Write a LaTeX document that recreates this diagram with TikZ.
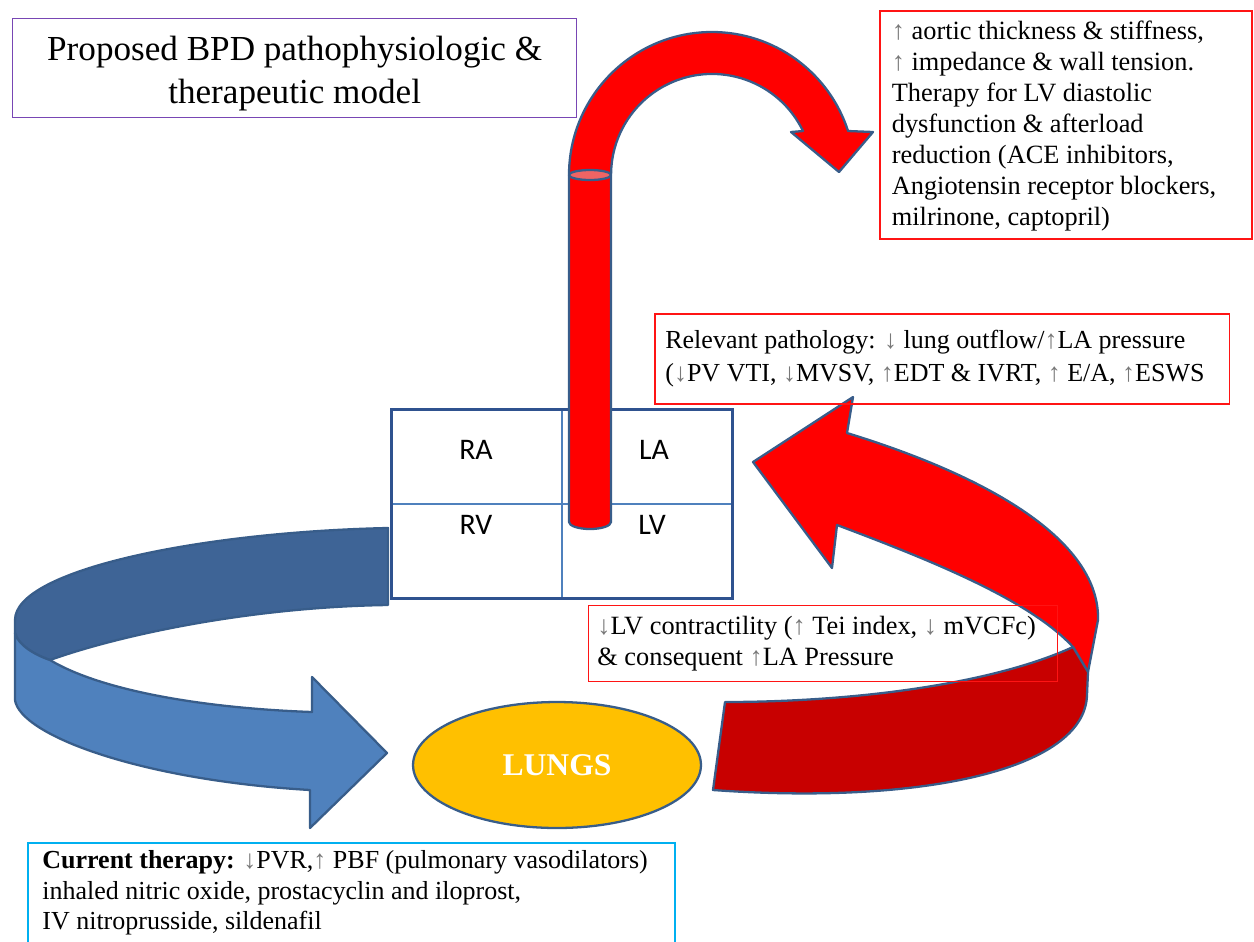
\documentclass[tikz,border=0pt]{standalone}
\usepackage{fontspec}
\setmainfont{Liberation Serif}
\newfontfamily\calib{Carlito}
\usetikzlibrary{shapes.geometric}
\definecolor{outl}{RGB}{56,93,138}
\definecolor{heartblue}{RGB}{47,82,143}
\definecolor{thinblue}{RGB}{79,129,189}
\definecolor{bluedark}{RGB}{62,100,150}
\definecolor{bluelight}{RGB}{79,129,189}
\definecolor{brightred}{RGB}{255,0,0}
\definecolor{darkred}{RGB}{200,0,0}
\definecolor{topred}{RGB}{240,100,100}
\definecolor{lungyellow}{RGB}{255,192,0}
\definecolor{purplebox}{RGB}{120,70,180}
\definecolor{boxred}{RGB}{255,20,20}
\definecolor{cyanbox}{RGB}{0,176,240}
\definecolor{arrgray}{RGB}{120,120,120}
\newcommand{\myup}{{\color{arrgray}↑}}
\newcommand{\mydn}{{\color{arrgray}↓}}
\begin{document}
\begin{tikzpicture}[x=0.02cm,y=-0.02cm,
  shapeline/.style={draw=outl, line width=1.3pt, line join=round},
  redbox/.style={draw=boxred, line width=0.9pt, inner sep=0pt, anchor=north west},
  txt/.style={inner sep=0pt, align=left, anchor=west},
  cham/.style={font=\calib\fontsize{17}{20}\selectfont, inner sep=0pt}]
\useasboundingbox (0,0) rectangle (1254,941);

% blue arrow (back, dark part)
\path[shapeline, fill=bluedark] (388,528) .. controls (200,532) and (15,570) .. (15,620) -- (15,633) .. controls (18,645) and (35,655) .. (50,660) .. controls (120,635) and (250,607) .. (388,605) -- cycle;
% blue arrow (front, light part)
\path[shapeline, fill=bluelight] (15,633) -- (15,700) .. controls (20,735) and (140,780) .. (310,790) -- (310,828) -- (387,753) -- (312,677) -- (312,712) .. controls (200,708) and (100,690) .. (50,660) .. controls (35,655) and (18,645) .. (15,633) -- cycle;

% red return arrow
\path[shapeline, fill=brightred] (753,462) -- (853,397) -- (847,433) .. controls (1000,480) and (1100,545) .. (1098,620) -- (1088,672) -- (1073,647) .. controls (1030,600) and (930,560) .. (837,525) -- (832,568) -- cycle;
\path[shapeline, fill=darkred] (725,702) .. controls (850,702) and (990,685) .. (1073,647) -- (1088,672) -- (1087,695) .. controls (1085,770) and (920,805) .. (713,790) -- cycle;

% heart
\node[minimum width=6.8cm, minimum height=3.76cm, inner sep=0pt] (heart) at (562,504) {};
\draw[thinblue, line width=0.7pt] (heart.north) -- (heart.south);
\draw[thinblue, line width=0.7pt] (heart.west) -- (heart.east);
\draw[heartblue, line width=1.9pt] (heart.north west) rectangle (heart.south east);
\node[cham] (ra) at (476,450) {RA};
\node[cham] (la) at (654,450) {LA};
\node[cham] (rv) at (476,525) {RV};
\node[cham] (lv) at (652,525) {LV};

% aorta arc
\path[shapeline, fill=brightred] (569,175) arc[start angle=180, end angle=342.08, radius=143] -- (873,132) -- (839,172) -- (791,132) -- (803,131) arc[start angle=334.2, end angle=180, radius=101] -- cycle;
% aorta tube
\path[shapeline, fill=brightred] (569,175) -- (569,522) arc[start angle=180, end angle=0, x radius=21, y radius=7] -- (611,175) -- cycle;
\path[shapeline, fill=topred] (590,175) ellipse[x radius=21, y radius=5];

% lungs
\node[ellipse, draw=outl, line width=1.3pt, fill=lungyellow, minimum width=5.76cm, minimum height=2.52cm, text=white, font=\bfseries\fontsize{18}{20}\selectfont] (lungs) at (557,765) {LUNGS};

% title
\node[draw=purplebox, line width=0.8pt, anchor=north west, minimum width=11.28cm, minimum height=1.98cm, inner sep=0pt] (titlebox) at (12,18) {};
\node[inner sep=0pt, align=center, font=\fontsize{20}{24.5}\selectfont] (title) at ([yshift=-0.1cm]titlebox.center) {Proposed BPD pathophysiologic \&\\therapeutic model};

% aortic text box
\node[redbox, minimum width=7.44cm, minimum height=4.56cm] (aorbox) at (879,10) {};
\node[txt, font=\fontsize{15}{17.6}\selectfont] (aortxt) at ([xshift=0.25cm,yshift=-0.03cm]aorbox.west) {\myup{} aortic thickness \& stiffness,\\\myup{} impedance \& wall tension.\\Therapy for LV diastolic\\dysfunction \& afterload\\reduction (ACE inhibitors,\\Angiotensin receptor blockers,\\milrinone, captopril)};

% relevant pathology box
\node[redbox, minimum width=11.5cm, minimum height=1.8cm] (relbox) at (654,313) {};
\node[txt, font=\fontsize{14.8}{19}\selectfont] (reltxt) at ([xshift=0.22cm]relbox.west) {Relevant pathology: \mydn{} lung outflow/\myup LA pressure\\(\mydn PV VTI, \mydn MVSV, \myup EDT \& IVRT, \myup{} E/A, \myup ESWS};

% LV contractility box
\node[redbox, line width=0.7pt, minimum width=9.38cm, minimum height=1.52cm] (lvbox) at (588,605) {};
\node[txt, font=\fontsize{15}{17.5}\selectfont] (lvtxt) at ([xshift=0.18cm]lvbox.west) {\mydn LV contractility (\myup{} Tei index, \mydn{} mVCFc)\\\& consequent \myup LA Pressure};

% current therapy box
\draw[cyanbox, line width=0.9pt] (28,843) rectangle (675,990);
\node[inner sep=0pt, align=left, anchor=north west, font=\fontsize{14.8}{17.5}\selectfont] (curtxt) at (42,850) {\textbf{Current therapy:} \mydn PVR,\myup{} PBF (pulmonary vasodilators)\\inhaled nitric oxide, prostacyclin and iloprost,\\IV nitroprusside, sildenafil};
\end{tikzpicture}
\end{document}
